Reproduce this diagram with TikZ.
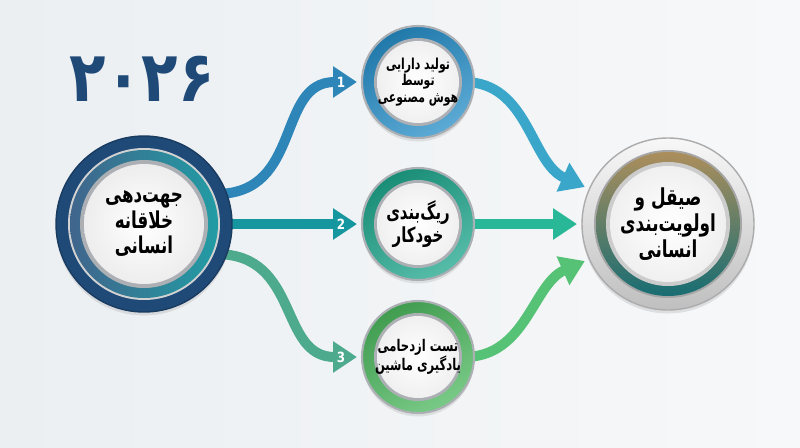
\documentclass[tikz,border=0pt]{standalone}
\usepackage{fontspec}
\usepackage{tikz}
\usetikzlibrary{arrows.meta, positioning, calc, shadows}
\TeXXeTstate=1
\newfontfamily\fafont[Script=Arabic, FakeStretch=0.72]{DejaVu Sans}
\newfontfamily\yearfont[Script=Arabic, FakeStretch=0.85]{DejaVu Sans}

\definecolor{bgA}{RGB}{235,239,242}
\definecolor{bgB}{RGB}{247,248,249}
\definecolor{navy}{RGB}{31,74,120}
\definecolor{hubteal}{RGB}{34,156,164}
\definecolor{blueA}{RGB}{46,134,184}
\definecolor{tealA}{RGB}{22,150,158}
\definecolor{greenA}{RGB}{78,170,140}
\definecolor{blueB}{RGB}{58,166,202}
\definecolor{tealB}{RGB}{40,184,152}
\definecolor{greenB}{RGB}{86,194,118}
\definecolor{ringblue}{RGB}{38,142,200}
\definecolor{ringteal}{RGB}{30,166,140}
\definecolor{ringgreen}{RGB}{76,184,94}
\definecolor{bronze}{RGB}{172,142,92}
\definecolor{silver}{RGB}{172,176,180}

\pgfdeclarelayer{backdrop}
\pgfdeclarelayer{links}
\pgfsetlayers{backdrop,links,main}

\begin{document}
\begin{tikzpicture}[
    hub/.style={circle, minimum size=3.52cm, inner sep=0pt, outer sep=0pt, fill=navy, draw=navy!80!black, line width=0.8pt, drop shadow={opacity=0.2, shadow xshift=0pt, shadow yshift=-2pt}, text=black, align=center, font=\fafont\bfseries\fontsize{13.2}{14.5}\selectfont, path picture={
        \fill[gray!35] (path picture bounding box.center) circle (1.52cm);
        \shade[left color=navy!85, right color=hubteal] (path picture bounding box.center) circle (1.48cm);
        \fill[silver] (path picture bounding box.center) circle (1.28cm);
        \shade[inner color=white, outer color=gray!14] (path picture bounding box.center) circle (1.2cm);}},
    stage/.style={circle, minimum size=2.24cm, inner sep=0pt, outer sep=0pt, fill=#1, draw=silver, line width=1.2pt, drop shadow={opacity=0.18, shadow xshift=0pt, shadow yshift=-2pt}, text=black, align=center, path picture={
        \shade[top color=#1!85!black, bottom color=#1!75!white, shading angle=30] (path picture bounding box.center) circle (1.1cm);
        \fill[silver] (path picture bounding box.center) circle (0.88cm);
        \shade[inner color=white, outer color=gray!12] (path picture bounding box.center) circle (0.82cm);}},
    endring/.style={circle, minimum size=3.44cm, inner sep=0pt, outer sep=0pt, top color=gray!6, bottom color=gray!50, draw=gray!65, line width=0.8pt, drop shadow={opacity=0.2, shadow xshift=0pt, shadow yshift=-2pt}, text=black, align=center, font=\fafont\bfseries\fontsize{13.3}{14.8}\selectfont, path picture={
        \fill[gray!70] (path picture bounding box.center) circle (1.48cm);
        \shade[top color=bronze, bottom color=hubteal!70!black] (path picture bounding box.center) circle (1.44cm);
        \fill[gray!40] (path picture bounding box.center) circle (1.24cm);
        \shade[inner color=white, outer color=gray!12] (path picture bounding box.center) circle (1.16cm);}},
    flowline/.style={draw=#1, line width=0.2cm, -{Triangle[length=0.48cm, width=0.6cm]}, shorten >=0.1cm},
    numlbl/.style={text=white, inner sep=0pt, font=\yearfont\bfseries\fontsize{8}{8}\selectfont},
    yearlbl/.style={text=navy, inner sep=0pt, font=\yearfont\bfseries\fontsize{40}{40}\selectfont}
]
    % Backdrop
    \begin{pgfonlayer}{backdrop}
    \shade [left color=bgA, right color=bgB] (0,0) rectangle (16,8.94);
    \end{pgfonlayer}
    \useasboundingbox (0,0) rectangle (16,8.94);

    % Circles
    \node [hub] (hub) at (2.88,4.46) {\beginR جهت^^^^200cدهی\endR\\\beginR خلاقانه\endR\\\beginR انسانی\endR};
    \node [stage=ringteal, right=2.6cm of hub, font=\fafont\bfseries\fontsize{11.8}{12.8}\selectfont] (t2) {\beginR ریگ^^^^200cبندی\endR\\\beginR خودکار\endR};
    \node [stage=ringblue, above=0.6cm of t2, font=\fafont\bfseries\fontsize{8.6}{9.6}\selectfont] (t1) {\beginR تولید دارایی\endR\\\beginR توسط\endR\\\beginR هوش مصنوعی\endR};
    \node [stage=ringgreen, below=0.42cm of t2, font=\fafont\bfseries\fontsize{9.15}{10.6}\selectfont] (t3) {\beginR تست ازدحامی\endR\\\beginR یادگیری ماشین\endR};
    \node [endring, right=2.16cm of t2] (fin) {\beginR صیقل و\endR\\\beginR اولویت^^^^200cبندی\endR\\\beginR انسانی\endR};
    \node [yearlbl] (year) at (2.84,7.36) {۲۰۲۶};

    % Connecting arrows
    \begin{pgfonlayer}{links}
    \path [flowline=blueA] ($(hub.20)+(-0.2,0)$) to[out=0, in=180, looseness=1.2] (t1.west);
    \path [flowline=tealA] ($(hub.east)+(-0.2,0)$) -- (t2.west);
    \path [flowline=greenA] ($(hub.-20)+(-0.2,0)$) to[out=0, in=180, looseness=1.2] (t3.west);
    \path [flowline=blueB] ($(t1.east)+(-0.2,0)$) to[out=0, in=156] (fin.156);
    \path [flowline=tealB] ($(t2.east)+(-0.2,0)$) -- (fin.west);
    \path [flowline=greenB] ($(t3.east)+(-0.2,0)$) to[out=0, in=204] (fin.204);
    \end{pgfonlayer}

    % Step numbers
    \node [numlbl] (n1) at ([xshift=-0.42cm]t1.west) {1};
    \node [numlbl] (n2) at ([xshift=-0.42cm]t2.west) {2};
    \node [numlbl] (n3) at ([xshift=-0.42cm]t3.west) {3};
\end{tikzpicture}
\end{document}
